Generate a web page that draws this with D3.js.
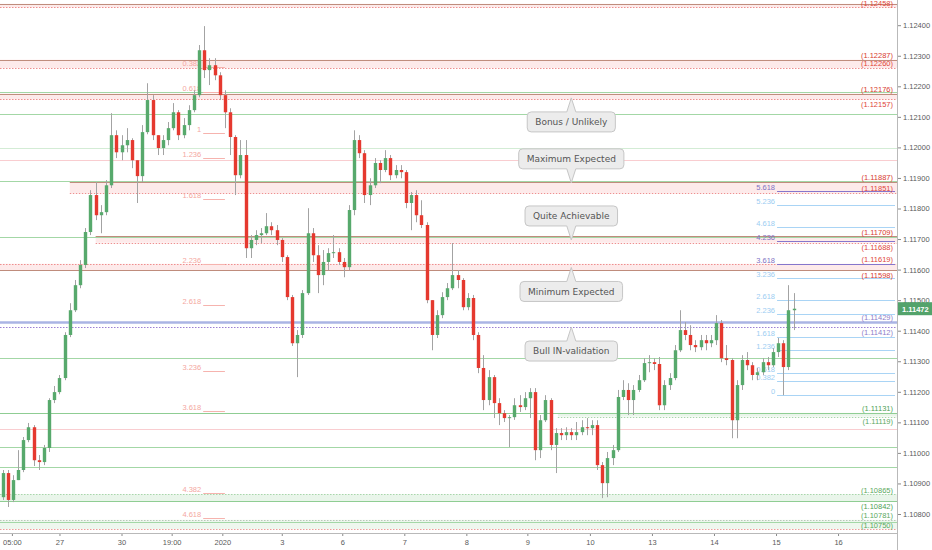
<!DOCTYPE html>
<html>
<head>
<meta charset="utf-8">
<script src="https://cdn.jsdelivr.net/npm/d3@7"></script>
<style>
body { margin: 0; background: #fff; }
svg { display: block; font-family: "Liberation Sans", Arial, sans-serif; }
</style>
</head>
<body>
<svg id="chart" width="932" height="550"></svg>
<script>
// EURUSD 2H candles
var firstOpen = 1.10855;
var closes = [1.10934,1.10846,1.10911,1.10944,1.11042,1.11084,1.10976,1.10970,1.11016,1.11173,
  1.11199,1.11245,1.11386,1.11467,1.11549,1.11615,1.11723,1.11844,1.11778,1.11788,
  1.11876,1.12040,1.11984,1.12007,1.12024,1.11958,1.11906,1.12050,1.12155,1.12040,
  1.11998,1.12024,1.12063,1.12115,1.12040,1.12073,1.12122,1.12171,1.12318,1.12253,
  1.12269,1.12236,1.12171,1.12115,1.12034,1.11909,1.11975,1.11670,1.11697,1.11713,
  1.11719,1.11742,1.11729,1.11697,1.11641,1.11510,1.11359,1.11386,1.11523,1.11719,
  1.11647,1.11582,1.11625,1.11654,1.11657,1.11625,1.11608,1.11795,1.12024,1.11981,
  1.11844,1.11876,1.11949,1.11926,1.11965,1.11909,1.11926,1.11919,1.11818,1.11844,
  1.11778,1.11746,1.11500,1.11386,1.11451,1.11510,1.11539,1.11582,1.11566,1.11477,
  1.11507,1.11386,1.11278,1.11173,1.11248,1.11163,1.11130,1.11114,1.11117,1.11156,
  1.11150,1.11179,1.11199,1.11009,1.11107,1.11173,1.11026,1.11065,1.11058,1.11068,
  1.11058,1.11068,1.11084,1.11081,1.11091,1.10960,1.10901,1.10983,1.11009,1.11183,
  1.11206,1.11173,1.11206,1.11238,1.11294,1.11297,1.11291,1.11156,1.11222,1.11245,
  1.11336,1.11402,1.11386,1.11353,1.11346,1.11369,1.11359,1.11369,1.11425,1.11310,
  1.11304,1.11107,1.11222,1.11304,1.11287,1.11255,1.11264,1.11297,1.11287,1.11330,
  1.11359,1.11281,1.11467,1.11472];
var highs = [1.10944,1.10944,1.10927,1.11009,1.11052,1.11098,1.11091,1.10993,1.11026,1.11179,
  1.11219,1.11255,1.11395,1.11490,1.11566,1.11631,1.11736,1.11860,1.11886,1.11811,
  1.11893,1.12112,1.12056,1.12040,1.12063,1.12030,1.11958,1.12073,1.12210,1.12171,
  1.12040,1.12040,1.12083,1.12145,1.12122,1.12096,1.12138,1.12187,1.12335,1.12397,
  1.12292,1.12292,1.12246,1.12187,1.12128,1.12040,1.12024,1.12024,1.11713,1.11729,
  1.11736,1.11785,1.11755,1.11746,1.11703,1.11647,1.11517,1.11402,1.11533,1.11801,
  1.11736,1.11680,1.11664,1.11670,1.11713,1.11670,1.11638,1.11811,1.12056,1.12040,
  1.11991,1.11899,1.11965,1.11958,1.11991,1.11975,1.11942,1.11942,1.11926,1.11854,
  1.11860,1.11827,1.11755,1.11500,1.11467,1.11526,1.11556,1.11687,1.11598,1.11572,
  1.11523,1.11517,1.11395,1.11320,1.11271,1.11255,1.11179,1.11140,1.11124,1.11179,
  1.11189,1.11199,1.11212,1.11212,1.11124,1.11189,1.11179,1.11081,1.11081,1.11084,
  1.11081,1.11101,1.11107,1.11114,1.11107,1.11107,1.10970,1.11003,1.11026,1.11206,
  1.11238,1.11228,1.11222,1.11255,1.11310,1.11320,1.11310,1.11314,1.11238,1.11261,
  1.11353,1.11467,1.11428,1.11418,1.11369,1.11386,1.11386,1.11386,1.11451,1.11435,
  1.11353,1.11310,1.11238,1.11320,1.11330,1.11297,1.11278,1.11310,1.11314,1.11343,
  1.11376,1.11369,1.11549,1.11523];
var lows = [1.10846,1.10823,1.10839,1.10927,1.10937,1.11035,1.10957,1.10944,1.10960,1.11003,
  1.11163,1.11192,1.11238,1.11379,1.11461,1.11539,1.11605,1.11713,1.11762,1.11719,
  1.11778,1.11867,1.11965,1.11958,1.11984,1.11932,1.11818,1.11886,1.12043,1.12024,
  1.11975,1.11975,1.12007,1.12056,1.12024,1.12030,1.12056,1.12115,1.12164,1.12227,
  1.12204,1.12220,1.12155,1.12063,1.11975,1.11844,1.11899,1.11638,1.11638,1.11680,
  1.11687,1.11713,1.11713,1.11680,1.11625,1.11500,1.11350,1.11248,1.11376,1.11517,
  1.11625,1.11523,1.11549,1.11598,1.11638,1.11615,1.11575,1.11598,1.11778,1.11965,
  1.11818,1.11811,1.11867,1.11883,1.11919,1.11893,1.11899,1.11899,1.11801,1.11729,
  1.11755,1.11736,1.11490,1.11336,1.11376,1.11441,1.11500,1.11533,1.11539,1.11467,
  1.11467,1.11369,1.11261,1.11140,1.11156,1.11114,1.11091,1.11101,1.11019,1.11108,
  1.11134,1.11140,1.11114,1.10976,1.10983,1.11101,1.11009,1.10934,1.11042,1.11042,
  1.11042,1.11042,1.11058,1.11058,1.11058,1.10944,1.10852,1.10855,1.10960,1.11003,
  1.11173,1.11124,1.11124,1.11199,1.11232,1.11264,1.11271,1.11140,1.11140,1.11206,
  1.11238,1.11330,1.11369,1.11336,1.11330,1.11336,1.11336,1.11346,1.11353,1.11297,
  1.11287,1.11048,1.11048,1.11206,1.11271,1.11238,1.11238,1.11255,1.11271,1.11281,
  1.11314,1.11189,1.11271,1.11402];

// time axis (bar index of each label)
var dateTickBars = [1.8, 11, 23, 32.7, 42.5, 54, 65.7, 77.7, 89.7, 101.5, 113.6, 125.6, 137.6, 149.6, 161.6];
var dateTickLabels = ['05:00', '27', '30', '19:00', '2020', '3', '6', '7', '8', '9', '10', '13', '14', '15', '16'];
var priceTicks = [1.108, 1.109, 1.110, 1.111, 1.112, 1.113, 1.114, 1.115, 1.116, 1.117, 1.118, 1.119, 1.120, 1.121, 1.122, 1.123, 1.124];

// supply zones (red): solid edge, dotted edge, first bar
var supplySolid  = [1.12470, 1.12287, 1.12176, 1.11887, 1.11709, 1.11598];
var supplyDotted = [1.12458, 1.12260, 1.12157, 1.11851, 1.11688, 1.11619];
var supplyStart  = [null, null, null, 13, 18, null];
// demand zones (green)
var demandSolid  = [1.11131, 1.10842];
var demandDotted = [1.11119, 1.10865];
var demandStart  = [107.4, null];
var lowZone = [1.10781, 1.10750];
// bull invalidation
var invalidation = [1.11429, 1.11412];
// plain lines
var greenLines = [1.12181, 1.12109, 1.11890, 1.11707, 1.11311, 1.11019, 1.10954, 1.10774];
var faintGreenLines = [1.11998];
var pinkLines = [1.11959, 1.11078];
// labels that sit under their line (too close to the one above)
var labelsBelow = [1.12157, 1.11412, 1.11119, 1.11688, 1.11598, 1.10842];

// fib extension on the left
var fibLeftRatios = ['0.382', '0.618', '1', '1.236', '1.618', '2.236', '2.618', '3.236', '3.618', '4.382', '4.618'];
var fibLeftPrices = [1.12262, 1.12180, 1.12047, 1.11965, 1.11832, 1.11617, 1.11484, 1.11269, 1.11136, 1.10870, 1.10788];
// fib extension on the right
var fibRightRatios = ['0', '0.382', '0.618', '1.236', '1.618', '2.236', '2.618', '3.236', '3.618', '4.236', '4.618', '5.236', '5.618'];
var fibRightPrices = [1.11189, 1.11234, 1.11262, 1.11336, 1.11381, 1.11455, 1.11500, 1.11573, 1.11619, 1.11692, 1.11738, 1.11811, 1.11856];
var fibRightStrong = ['3.618', '4.236', '5.618'];

// callouts
var noteTexts = ['Bonus / Unlikely', 'Maximum Expected', 'Quite Achievable', 'Minimum Expected', 'Bull IN-validation'];
var notePrices = [1.12162, 1.11884, 1.11697, 1.11607, 1.11412];
var noteDirs = ['up', 'down', 'down', 'up', 'up'];
var noteBar = 110;

var lastPrice = 1.11472;

// ---------------------------------------------------------------
var W = 932, H = 550, plotW = 897, plotH = 533;
var svg = d3.select('#chart');

var x = d3.scaleLinear().domain([0, 153]).range([2.6, 793.6]);
var y = d3.scaleLinear().domain([1.108, 1.124]).range([514, 25.2]);

svg.append('defs').append('clipPath').attr('id', 'plotClip')
  .append('rect').attr('width', plotW).attr('height', plotH);

var plot = svg.append('g').attr('clip-path', 'url(#plotClip)');

function xs(bar) { return bar == null ? 0 : x(bar); }

function hline(g, price, x0, x1, color, width, dash) {
  g.append('line')
    .attr('x1', x0).attr('x2', x1)
    .attr('y1', Math.round(y(price)) + 0.5).attr('y2', Math.round(y(price)) + 0.5)
    .attr('stroke', color).attr('stroke-width', width || 1)
    .attr('stroke-dasharray', dash || null);
}

var zonesG = plot.append('g');

// band fills
supplySolid.forEach(function(p, i) {
  var a = y(p), b = y(supplyDotted[i]);
  zonesG.append('rect').attr('x', xs(supplyStart[i])).attr('width', plotW - xs(supplyStart[i]))
    .attr('y', Math.min(a, b)).attr('height', Math.abs(b - a)).attr('fill', '#fdeaea');
});
demandSolid.forEach(function(p, i) {
  var a = y(p), b = y(demandDotted[i]);
  zonesG.append('rect').attr('x', xs(demandStart[i])).attr('width', plotW - xs(demandStart[i]))
    .attr('y', Math.min(a, b)).attr('height', Math.abs(b - a)).attr('fill', '#e9f5ea');
});
zonesG.append('rect').attr('x', 0).attr('width', plotW)
  .attr('y', y(lowZone[0])).attr('height', y(lowZone[1]) - y(lowZone[0])).attr('fill', '#eef7ee');

// plain lines
faintGreenLines.forEach(function(p) { hline(zonesG, p, 0, plotW, '#d3ecd5'); });
pinkLines.forEach(function(p) { hline(zonesG, p, 0, plotW, '#f9cdd0'); });
greenLines.forEach(function(p) { hline(zonesG, p, 0, plotW, '#a3d7a6'); });

// zone edges
supplySolid.forEach(function(p, i) {
  hline(zonesG, p, xs(supplyStart[i]), plotW, '#bf8c7c');
  hline(zonesG, supplyDotted[i], xs(supplyStart[i]), plotW, '#ee8f8f', 1, '1.5,1.5');
});
demandSolid.forEach(function(p, i) {
  hline(zonesG, p, 0, plotW, '#8fcd93');
  hline(zonesG, demandDotted[i], xs(demandStart[i]), plotW, '#a9d6ab', 1, '1.5,1.5');
});
hline(zonesG, lowZone[0], 0, plotW, '#b9c7b9', 1, '1.5,1.5');
hline(zonesG, lowZone[1], 0, plotW, '#ef9a9a', 1, '1.5,1.5');

hline(zonesG, invalidation[0], 0, plotW, '#aab4e4', 2.5);
hline(zonesG, invalidation[1], 0, plotW, '#9b7fd4', 1, '1.5,1.5');

// left fib
var fibG = plot.append('g');
fibLeftPrices.forEach(function(p, i) {
  hline(fibG, p, x(38.8), x(43), '#f6b3ae');
  fibG.append('text')
    .attr('x', x(38.8) - 2).attr('y', y(p) - 1)
    .attr('text-anchor', 'end').attr('font-size', 7.5).attr('fill', '#f4a7a1')
    .text(fibLeftRatios[i]);
});

// right fib
fibRightPrices.forEach(function(p, i) {
  var strong = fibRightStrong.indexOf(fibRightRatios[i]) >= 0;
  hline(fibG, p, x(149.8), plotW - 2, strong ? '#8576cc' : '#a9d4f5', strong ? 1.2 : 1);
  fibG.append('text')
    .attr('x', x(149.8) - 2).attr('y', y(p) - 1)
    .attr('text-anchor', 'end').attr('font-size', 7.5)
    .attr('fill', strong ? '#7f73c4' : '#9ccdf2')
    .text(fibRightRatios[i]);
});

// candles
var candles = closes.map(function(c, i) {
  var o = i === 0 ? firstOpen : closes[i - 1];
  return {
    i: i, o: o, c: c,
    h: Math.max(highs[i], o, c),
    l: Math.min(lows[i], o, c)
  };
});

var candleG = plot.append('g');
candleG.selectAll('.wick').data(candles).enter().append('line')
  .attr('class', 'wick')
  .attr('x1', function(d) { return Math.round(x(d.i)) + 0.5; })
  .attr('x2', function(d) { return Math.round(x(d.i)) + 0.5; })
  .attr('y1', function(d) { return y(d.h); })
  .attr('y2', function(d) { return y(d.l); })
  .attr('stroke', '#a3a3a3').attr('stroke-width', 1);

candleG.selectAll('.body').data(candles).enter().append('rect')
  .attr('class', 'body')
  .attr('x', function(d) { return Math.round(x(d.i)) + 0.5 - 1.7; })
  .attr('width', 3.4)
  .attr('y', function(d) { return y(Math.max(d.o, d.c)); })
  .attr('height', function(d) { return Math.max(1, Math.abs(y(d.o) - y(d.c))); })
  .attr('fill', function(d) { return d.c >= d.o ? '#57a96c' : '#e5392f'; });

// right side price labels
var labelG = plot.append('g').attr('font-size', 7.5).attr('text-anchor', 'end');
function priceLabel(p, color) {
  var below = labelsBelow.indexOf(p) >= 0;
  labelG.append('text').attr('x', plotW - 4).attr('y', below ? y(p) + 7.5 : y(p) - 1.5)
    .attr('fill', color).text('(' + d3.format('.5f')(p) + ')');
}
supplySolid.forEach(function(p, i) {
  if (i > 0) priceLabel(p, '#d83b30');
  priceLabel(supplyDotted[i], '#e0453a');
});
demandSolid.forEach(function(p, i) {
  priceLabel(p, '#4e9f55');
  priceLabel(demandDotted[i], '#5aa860');
});
lowZone.forEach(function(p) { priceLabel(p, '#5aa860'); });
invalidation.forEach(function(p) { priceLabel(p, '#8e7cc8'); });

// callouts
var noteG = svg.append('g').attr('font-family', '"DejaVu Sans", Verdana, sans-serif').attr('font-size', 9);
noteTexts.forEach(function(t, i) {
  var cx = x(noteBar), tip = y(notePrices[i]);
  var g = noteG.append('g');
  var txt = g.append('text').attr('text-anchor', 'middle').attr('fill', '#555').text(t);
  var tw = txt.node().getComputedTextLength();
  var bw = tw + 16, bh = 20, gap = 14, r = 4;
  var x0 = cx - bw / 2, x1 = cx + bw / 2;
  var y0 = noteDirs[i] === 'up' ? tip + gap : tip - gap - bh;
  var y1 = y0 + bh;
  var path = d3.path();
  path.moveTo(x0 + r, y0);
  if (noteDirs[i] === 'up') { path.lineTo(cx - 4.5, y0); path.lineTo(cx, tip); path.lineTo(cx + 4.5, y0); }
  path.lineTo(x1 - r, y0);
  path.quadraticCurveTo(x1, y0, x1, y0 + r);
  path.lineTo(x1, y1 - r);
  path.quadraticCurveTo(x1, y1, x1 - r, y1);
  if (noteDirs[i] === 'down') { path.lineTo(cx + 4.5, y1); path.lineTo(cx, tip); path.lineTo(cx - 4.5, y1); }
  path.lineTo(x0 + r, y1);
  path.quadraticCurveTo(x0, y1, x0, y1 - r);
  path.lineTo(x0, y0 + r);
  path.quadraticCurveTo(x0, y0, x0 + r, y0);
  path.closePath();
  g.insert('path', 'text').attr('d', path.toString())
    .attr('fill', '#ececec').attr('stroke', '#c6c6c6').attr('stroke-width', 1);
  txt.attr('x', cx).attr('y', y0 + bh / 2 + 3.3);
});

// axes
var yAxisG = svg.append('g').attr('transform', 'translate(' + plotW + ',0)')
  .call(d3.axisRight(y).tickValues(priceTicks).tickFormat(d3.format('.5f')).tickSize(4).tickPadding(2));
yAxisG.select('.domain').remove();
yAxisG.selectAll('.tick line').attr('stroke', '#8a8a8a');
yAxisG.selectAll('.tick text').attr('fill', '#5a5a5a').attr('font-size', 7.5)
  .attr('font-family', '"Liberation Sans", Arial, sans-serif');

var xAxisG = svg.append('g').attr('transform', 'translate(0,' + plotH + ')')
  .call(d3.axisBottom(x).tickValues(dateTickBars)
    .tickFormat(function(d, i) { return dateTickLabels[i]; }).tickSize(3).tickPadding(4));
xAxisG.select('.domain').remove();
xAxisG.selectAll('.tick line').attr('stroke', '#8a8a8a');
xAxisG.selectAll('.tick text').attr('fill', '#5a5a5a').attr('font-size', 7.5)
  .attr('font-family', '"Liberation Sans", Arial, sans-serif');

svg.append('line').attr('x1', plotW + 0.5).attr('x2', plotW + 0.5).attr('y1', 0).attr('y2', H)
  .attr('stroke', '#b9b9b9');
svg.append('line').attr('x1', 0).attr('x2', plotW).attr('y1', plotH + 0.5).attr('y2', plotH + 0.5)
  .attr('stroke', '#b9b9b9');

// last price tag
var tagY = y(lastPrice);
svg.append('rect').attr('x', plotW + 1).attr('y', tagY - 6.5).attr('width', W - plotW - 1).attr('height', 13)
  .attr('fill', '#53a36b');
svg.append('text').attr('x', plotW + 5).attr('y', tagY + 2.8)
  .attr('font-size', 7.5).attr('font-weight', 'bold').attr('fill', '#fff').text(d3.format('.5f')(lastPrice));
</script>
</body>
</html>
